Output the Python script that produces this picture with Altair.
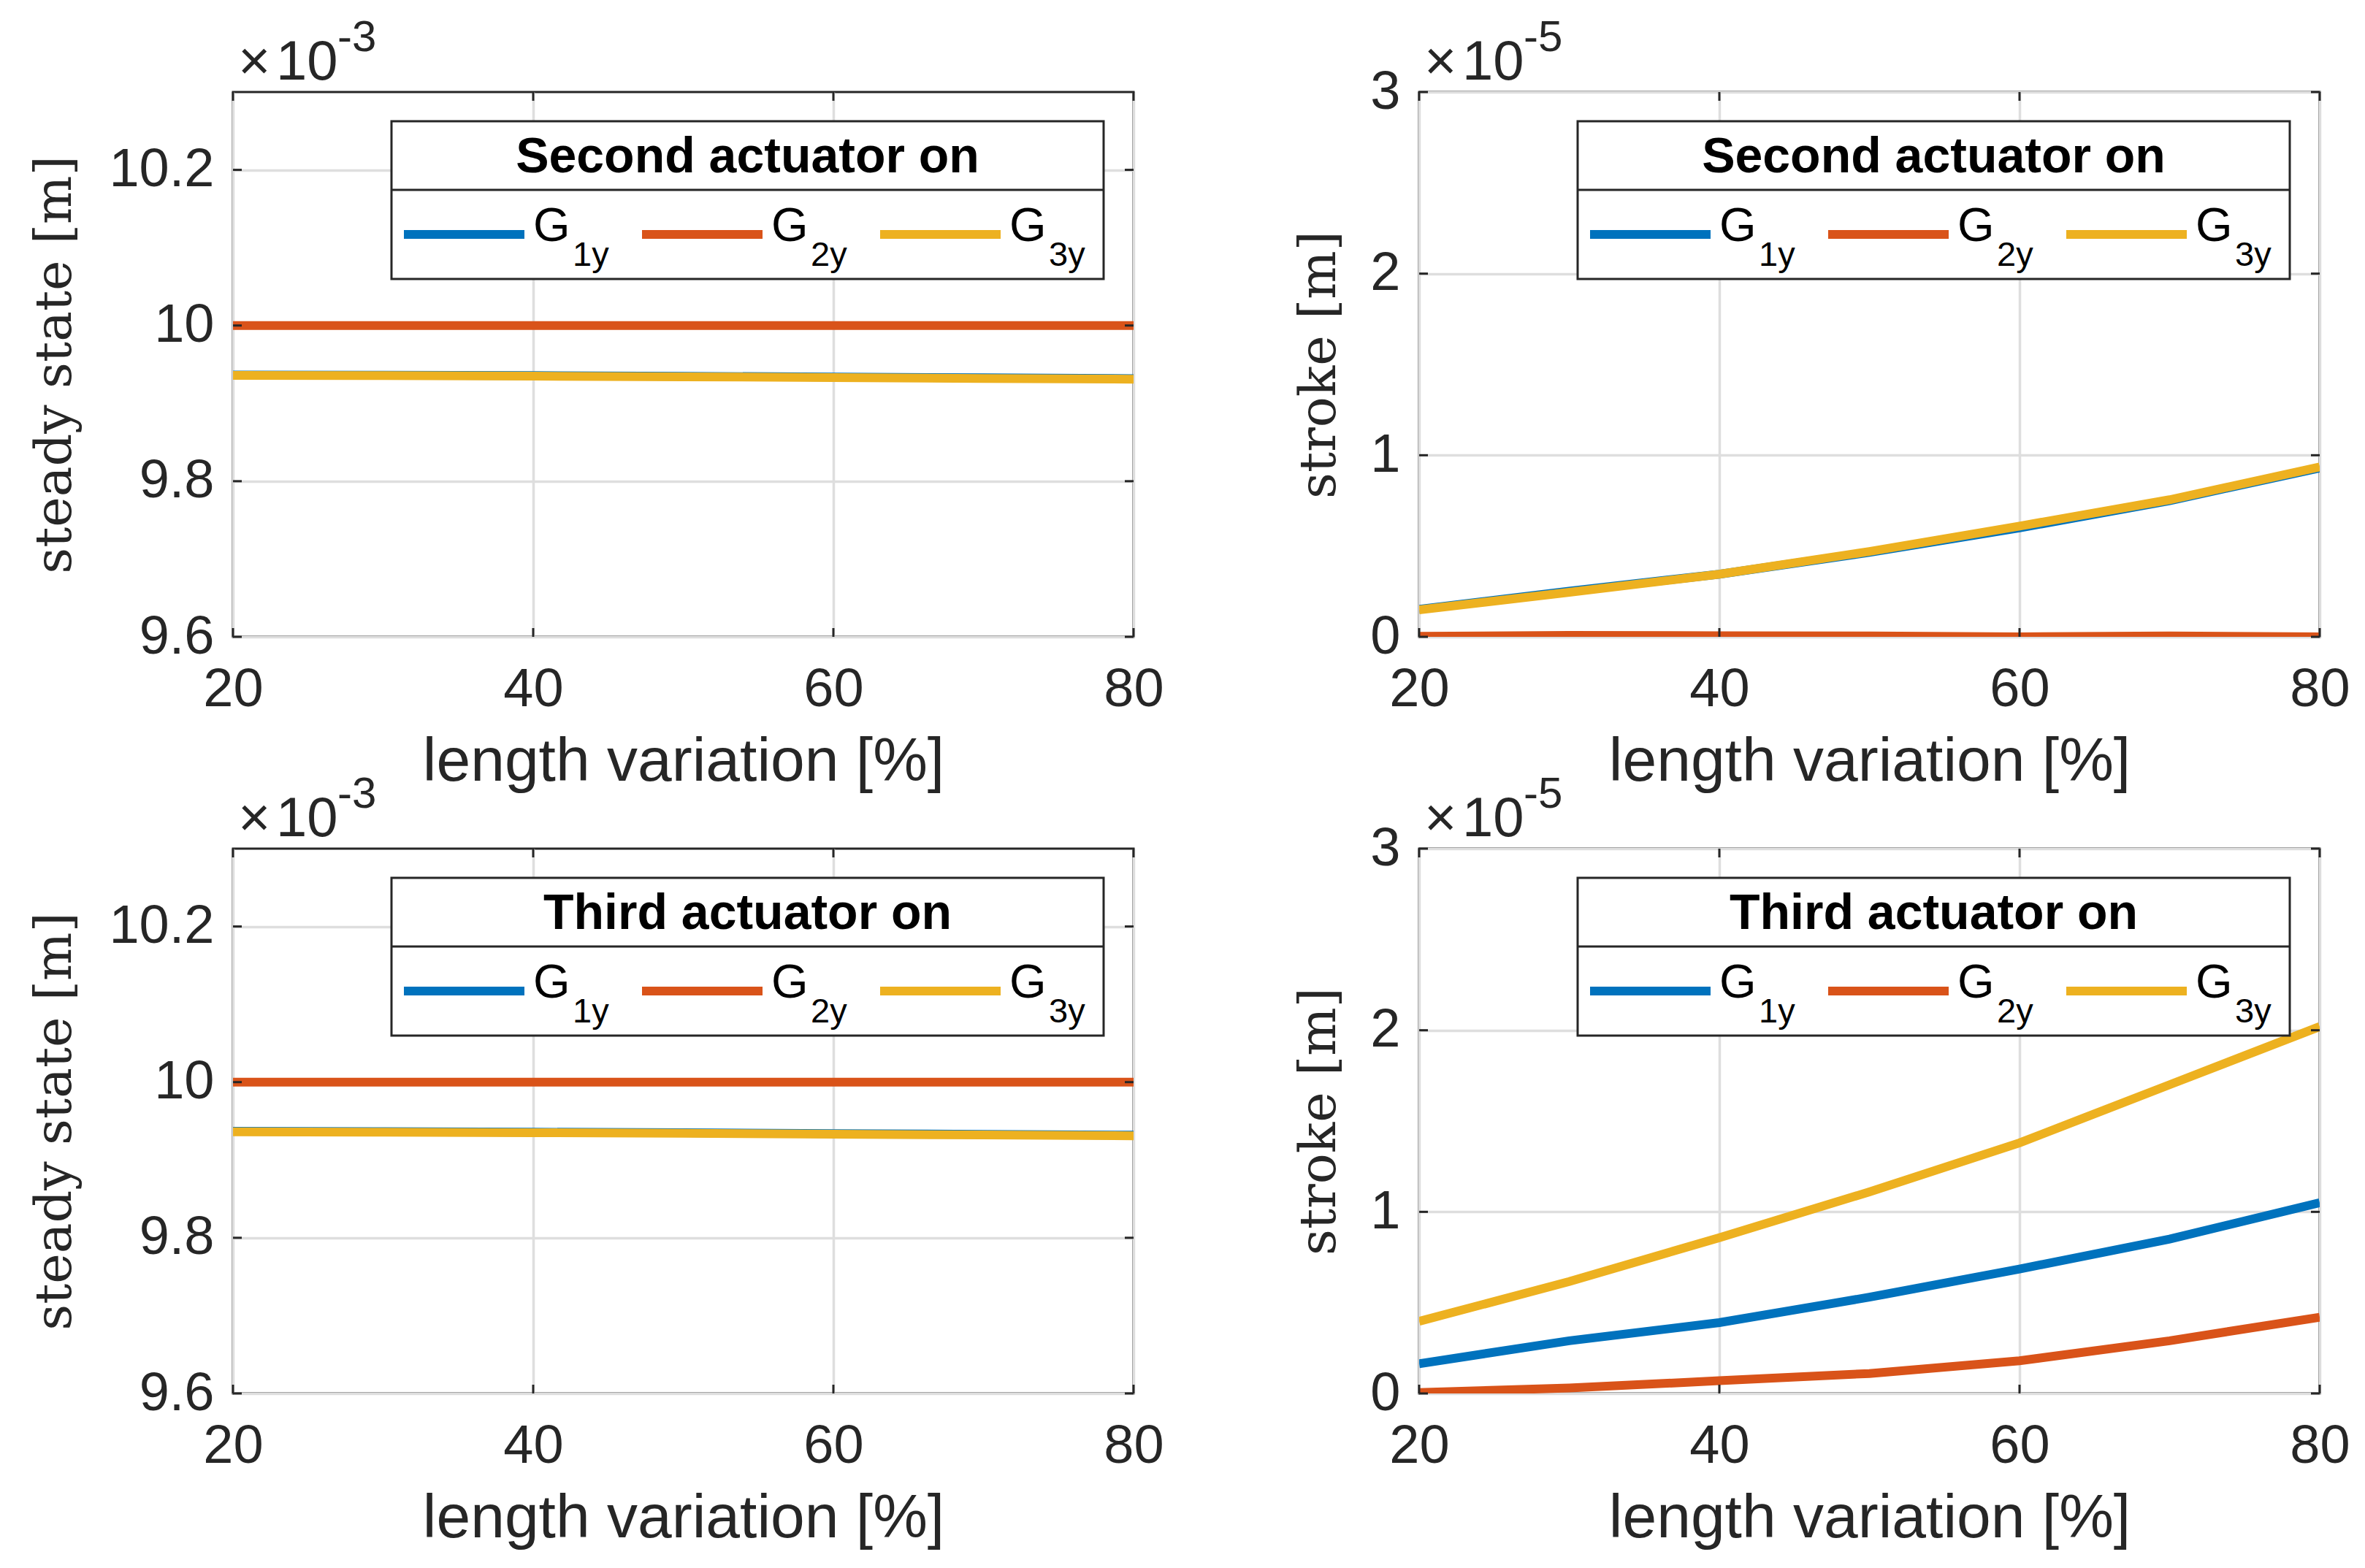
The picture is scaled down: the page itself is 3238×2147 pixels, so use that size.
import altair as alt
import pandas as pd

# ---------------- data ----------------
length_pct = [20, 30, 40, 50, 60, 70, 80]
series_names = ["G1y", "G2y", "G3y"]
series_colors = ["#0072BD", "#D95319", "#EDB120"]

# steady state [x1e-3 m]
ss_second_g1 = [9.9365, 9.9362, 9.9357, 9.9348, 9.9338, 9.9328, 9.9318]
ss_second_g2 = [10.0, 10.0, 10.0, 10.0, 10.0, 10.0, 10.0]
ss_second_g3 = [9.9360, 9.9356, 9.9350, 9.9341, 9.9331, 9.9320, 9.9310]

ss_third_g1 = [9.9368, 9.9363, 9.9357, 9.9349, 9.9339, 9.9329, 9.9319]
ss_third_g2 = [10.0, 10.0, 10.0, 10.0, 10.0, 10.0, 10.0]
ss_third_g3 = [9.9362, 9.9357, 9.9351, 9.9342, 9.9332, 9.9321, 9.9311]

# stroke [x1e-5 m]
stroke_second_g1 = [0.152, 0.252, 0.345, 0.465, 0.600, 0.750, 0.930]
stroke_second_g2 = [0.003, 0.008, 0.006, 0.005, 0.000, 0.005, 0.000]
stroke_second_g3 = [0.149, 0.245, 0.345, 0.470, 0.610, 0.755, 0.936]

stroke_third_g1 = [0.164, 0.290, 0.390, 0.530, 0.685, 0.850, 1.050]
stroke_third_g2 = [0.005, 0.030, 0.070, 0.110, 0.180, 0.290, 0.420]
stroke_third_g3 = [0.397, 0.616, 0.858, 1.110, 1.380, 1.700, 2.020]

x_ticks = [20, 40, 60, 80]
ss_ticks = [9.6, 9.8, 10.0, 10.2]
stroke_ticks = [0, 1, 2, 3]

# ---------------- styling ----------------
W, H = 1233, 746
AX = "#262626"
SANS = "Liberation Sans"
SERIF = "DejaVu Serif"
TICK_LEN = 12
LW = 12


def one(text):
    return pd.DataFrame({"t": [text]})


def panel(series_vals, ydomain, yticks, yfmt, ytitle, ytitle_x, legend_title, exp_text):
    rows = []
    for name, vals in zip(series_names, series_vals):
        for xv, yv in zip(length_pct, vals):
            rows.append({"length": xv, "value": yv, "series": name})
    df = pd.DataFrame(rows)

    xscale = alt.Scale(domain=[20, 80], nice=False, zero=False)
    yscale = alt.Scale(domain=ydomain, nice=False, zero=False)

    xaxis = alt.Axis(
        values=x_ticks, format="d", title="length variation [%]",
        titleFont=SANS, titleFontSize=84, titleFontWeight="normal", titleColor=AX,
        titleBaseline="alphabetic", titleX=W / 2, titleY=196, titleAlign="center",
        labelPadding=36, labelFlush=False, labelOverlap=False,
        domain=False, ticks=False, tickSize=0,
        labelFont=SANS, labelFontSize=74, labelColor=AX,
        grid=True, gridColor="#dedede", gridWidth=3.5,
    )
    yaxis = alt.Axis(
        values=yticks, format=yfmt, title=ytitle,
        titleFont=SERIF, titleFontSize=70, titleFontWeight="normal", titleColor=AX,
        titleBaseline="alphabetic", titleX=ytitle_x, titleY=H / 2, titleAlign="center",
        titleAngle=-90, labelPadding=26, labelFlush=False, labelOverlap=False,
        domain=False, ticks=False, tickSize=0,
        labelFont=SANS, labelFontSize=74, labelColor=AX,
        grid=True, gridColor="#dedede", gridWidth=3.5,
    )

    X = lambda f: alt.X(f, scale=xscale, axis=xaxis)
    Y = lambda f: alt.Y(f, scale=yscale, axis=yaxis)

    lines = alt.Chart(df).mark_line(strokeWidth=LW, clip=True).encode(
        x=X("length:Q"),
        y=Y("value:Q"),
        color=alt.Color("series:N", scale=alt.Scale(domain=series_names, range=series_colors), legend=None),
    )

    # inside ticks on all four sides
    ydf = pd.DataFrame({"value": yticks})
    xdf = pd.DataFrame({"length": x_ticks})
    tick_layers = [
        alt.Chart(ydf).mark_rule(color=AX, strokeWidth=3).encode(
            y=Y("value:Q"), x=alt.value(0), x2=alt.value(TICK_LEN)),
        alt.Chart(ydf).mark_rule(color=AX, strokeWidth=3).encode(
            y=Y("value:Q"), x=alt.value(W - TICK_LEN), x2=alt.value(W)),
        alt.Chart(xdf).mark_rule(color=AX, strokeWidth=3).encode(
            x=X("length:Q"), y=alt.value(H), y2=alt.value(H - TICK_LEN)),
        alt.Chart(xdf).mark_rule(color=AX, strokeWidth=3).encode(
            x=X("length:Q"), y=alt.value(0), y2=alt.value(TICK_LEN)),
    ]

    # exponent label (x10^n)
    exp_layers = [
        alt.Chart(one("×")).mark_text(font=SANS, fontSize=76, color=AX, align="left", baseline="alphabetic").encode(
            text="t:N", x=alt.value(7), y=alt.value(-17)),
        alt.Chart(one("10")).mark_text(font=SANS, fontSize=76, color=AX, align="left", baseline="alphabetic").encode(
            text="t:N", x=alt.value(59), y=alt.value(-17)),
        alt.Chart(one(exp_text)).mark_text(font=SANS, fontSize=60, color=AX, align="left", baseline="alphabetic").encode(
            text="t:N", x=alt.value(143), y=alt.value(-56)),
    ]

    # legend box
    LX1, LX2, LY1, LY2, LSEP = 217, 1192, 40, 256, 134
    leg = [
        alt.Chart(one("")).mark_rect(fill="white", stroke=AX, strokeWidth=3).encode(
            x=alt.value(LX1), x2=alt.value(LX2), y=alt.value(LY1), y2=alt.value(LY2)),
        alt.Chart(one("")).mark_rule(color=AX, strokeWidth=3).encode(
            x=alt.value(LX1), x2=alt.value(LX2), y=alt.value(LSEP)),
        alt.Chart(one(legend_title)).mark_text(font=SANS, fontSize=68, fontWeight="bold", color="black",
                                               align="center", baseline="alphabetic").encode(
            text="t:N", x=alt.value((LX1 + LX2) / 2), y=alt.value(110)),
    ]
    subs = ["1y", "2y", "3y"]
    for i, (col, sub) in enumerate(zip(series_colors, subs)):
        off = 326 * i
        leg.append(alt.Chart(one("")).mark_rule(color=col, strokeWidth=LW).encode(
            x=alt.value(234 + off), x2=alt.value(399 + off), y=alt.value(195)))
        leg.append(alt.Chart(one("G")).mark_text(font=SANS, fontSize=65, color="black",
                                                 align="left", baseline="alphabetic").encode(
            text="t:N", x=alt.value(411 + off), y=alt.value(204)))
        leg.append(alt.Chart(one(sub)).mark_text(font=SANS, fontSize=47, color="black",
                                                 align="left", baseline="alphabetic").encode(
            text="t:N", x=alt.value(465 + off), y=alt.value(238)))

    return alt.layer(lines, *tick_layers, *exp_layers, *leg).properties(width=W, height=H)


tl = panel([ss_second_g1, ss_second_g2, ss_second_g3], [9.6, 10.3], ss_ticks, ".1~f",
           "steady state [m]", -223, "Second actuator on", "-3")
tr = panel([stroke_second_g1, stroke_second_g2, stroke_second_g3], [0, 3], stroke_ticks, "d",
           "stroke [m]", -116, "Second actuator on", "-5")
bl = panel([ss_third_g1, ss_third_g2, ss_third_g3], [9.6, 10.3], ss_ticks, ".1~f",
           "steady state [m]", -223, "Third actuator on", "-3")
br = panel([stroke_third_g1, stroke_third_g2, stroke_third_g3], [0, 3], stroke_ticks, "d",
           "stroke [m]", -116, "Third actuator on", "-5")

chart = alt.concat(
    tl, tr, bl, br, columns=2,
    spacing={"row": 290, "column": 391},
    bounds="flush",
).properties(
    padding={"left": 30, "top": 12, "right": 10, "bottom": 10},
    background="white",
).configure_view(
    stroke=AX, strokeWidth=3, fill="white",
)

chart.save("out.html", embed_options={"renderer": "svg", "actions": False})
